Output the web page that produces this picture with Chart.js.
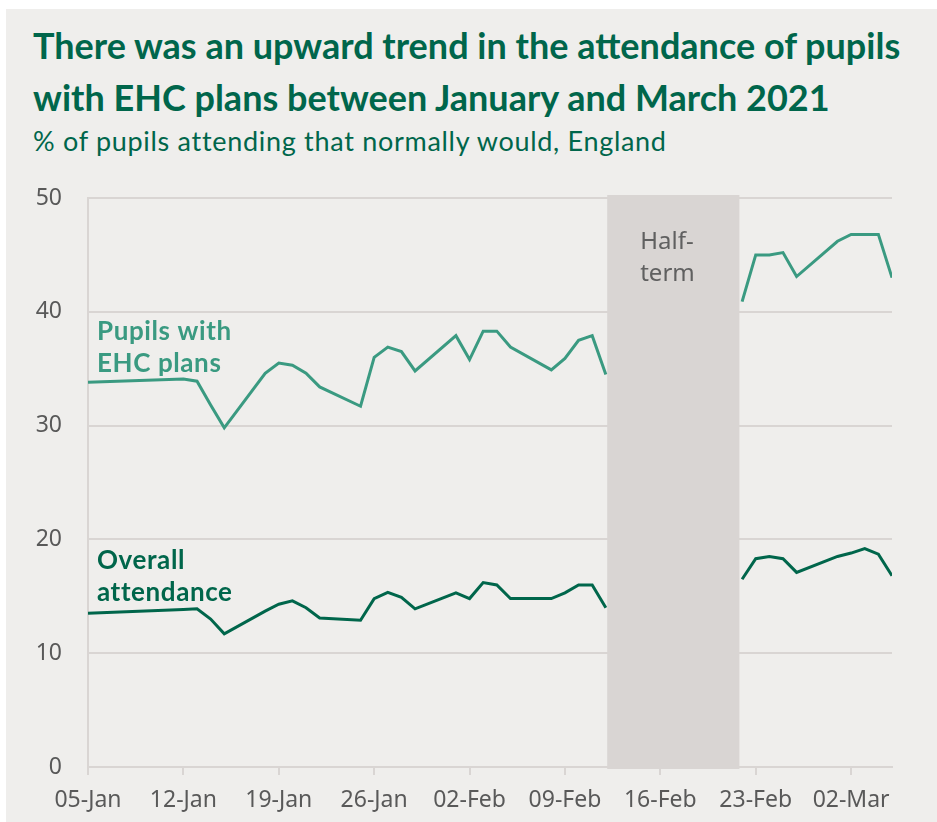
<!DOCTYPE html>
<html>
<head>
<meta charset="utf-8">
<title>Attendance of pupils with EHC plans</title>
<script src="https://cdn.jsdelivr.net/npm/chart.js@4.4.1/dist/chart.umd.min.js"></script>
<style>
    html, body { margin: 0; padding: 0; background: #ffffff; }
    #panel { position: absolute; left: 6px; top: 9px; width: 931px; height: 813px; background: #efeeec; }
    #title { position: absolute; left: 33px; top: 19px; margin: 0; font: bold 36px Lato, "Noto Sans", sans-serif; line-height: 52px; color: #00664b; white-space: nowrap; }
    #subtitle { position: absolute; left: 33px; top: 126px; margin: 0; font: 27px Lato, "Noto Sans", sans-serif; letter-spacing: 0.7px; line-height: 30px; color: #00664b; white-space: nowrap; }
    #chart { position: absolute; left: 0; top: 0; }
</style>
</head>
<body>
<div id="panel"></div>
<h1 id="title">There was an upward trend in the attendance of pupils<br>with EHC plans between January and March 2021</h1>
<p id="subtitle">% of pupils attending that normally would, England</p>
<canvas id="chart" width="937" height="822"></canvas>
<script>
// Days since 05-Jan-2021 (school days only, null marks the half-term break)
const dayOffsets = [0, 7, 8, 9, 10, 13, 14, 15, 16, 17, 20, 21, 22, 23, 24, 27, 28, 29, 30, 31,
    34, 35, 36, 37, 38, 43, 48, 49, 50, 51, 52, 55, 56, 57, 58, 59];

const ehcValues = [33.8, 34.1, 33.9, 31.8, 29.8, 34.6, 35.5, 35.3, 34.6, 33.4, 31.7, 36.0, 36.9, 36.5, 34.8,
    37.9, 35.8, 38.3, 38.3, 36.9, 34.9, 35.9, 37.5, 37.9, 34.5, null,
    40.9, 45.0, 45.0, 45.2, 43.1, 46.2, 46.8, 46.8, 46.8, 43.0];

const overallValues = [13.5, 13.85, 13.9, 13.0, 11.7, 13.7, 14.3, 14.6, 14.0, 13.1, 12.9, 14.8, 15.35, 14.9, 13.9,
    15.3, 14.8, 16.2, 16.0, 14.8, 14.8, 15.3, 16.0, 16.0, 14.0, null,
    16.5, 18.3, 18.5, 18.3, 17.1, 18.5, 18.8, 19.2, 18.7, 16.8];

const tickDays = [0, 7, 14, 21, 28, 35, 42, 49, 56];
const tickLabels = ['05-Jan', '12-Jan', '19-Jan', '26-Jan', '02-Feb', '09-Feb', '16-Feb', '23-Feb', '02-Mar'];

const halfTerm = [38.1, 47.8];

const tealColor = '#3a9a81';
const greenColor = '#00664b';
const gridColor = '#d9d5d3';
const tickColor = '#595959';

function toPoints(values) {
    return dayOffsets.map((d, i) => ({ x: d, y: values[i] }));
}

// Grey band behind the lines for half-term, plus the text labels
const annotations = {
    id: 'annotations',
    beforeDatasetsDraw(chart) {
        const { ctx, chartArea, scales } = chart;
        const x1 = scales.x.getPixelForValue(halfTerm[0]);
        const x2 = scales.x.getPixelForValue(halfTerm[1]);
        ctx.save();
        ctx.fillStyle = '#d9d5d3';
        ctx.fillRect(x1, chartArea.top - 3, x2 - x1, chartArea.bottom - chartArea.top + 5);
        ctx.fillStyle = '#606060';
        ctx.font = '24px "Noto Sans"';
        ctx.textBaseline = 'alphabetic';
        ctx.fillText('Half-', x1 + 33, 249);
        ctx.fillText('term', x1 + 33, 281);
        ctx.restore();
    },
    afterDatasetsDraw(chart) {
        const { ctx, chartArea } = chart;
        const left = chartArea.left + 9;
        ctx.save();
        ctx.textBaseline = 'alphabetic';
        ctx.font = 'bold 26px Lato';
        ctx.letterSpacing = '0.6px';
        ctx.fillStyle = tealColor;
        ctx.fillText('Pupils with', left, 340);
        ctx.fillText('EHC plans', left, 372);
        ctx.fillStyle = greenColor;
        ctx.fillText('Overall', left, 569);
        ctx.fillText('attendance', left, 601);
        ctx.restore();
    }
};

new Chart(document.getElementById('chart'), {
    type: 'line',
    data: {
        datasets: [{
            label: 'Pupils with EHC plans',
            data: toPoints(ehcValues),
            borderColor: tealColor,
            borderWidth: 3,
            pointRadius: 0,
            tension: 0,
            spanGaps: false
        }, {
            label: 'Overall attendance',
            data: toPoints(overallValues),
            borderColor: greenColor,
            borderWidth: 3,
            pointRadius: 0,
            tension: 0,
            spanGaps: false
        }]
    },
    options: {
        responsive: false,
        animation: false,
        layout: {
            padding: { top: 198, right: 45, bottom: 0, left: 0 }
        },
        plugins: {
            legend: { display: false },
            tooltip: { enabled: false }
        },
        scales: {
            x: {
                type: 'linear',
                min: 0,
                max: 59,
                afterBuildTicks: scale => {
                    scale.ticks = tickDays.map(v => ({ value: v }));
                },
                afterFit: scale => { scale.height = 55; },
                ticks: {
                    autoSkip: false,
                    maxRotation: 0,
                    padding: 12,
                    color: tickColor,
                    font: { family: '"Noto Sans"', size: 23 },
                    callback: value => tickLabels[tickDays.indexOf(value)]
                },
                grid: {
                    drawOnChartArea: false,
                    drawTicks: true,
                    tickLength: 8,
                    color: gridColor,
                    lineWidth: 2
                },
                border: { display: true, color: gridColor, width: 2 }
            },
            y: {
                min: 0,
                max: 50,
                afterFit: scale => { scale.width = 88; },
                ticks: {
                    stepSize: 10,
                    padding: 26,
                    color: tickColor,
                    font: { family: '"Noto Sans"', size: 23 }
                },
                grid: {
                    drawTicks: false,
                    color: gridColor,
                    lineWidth: 2
                },
                border: { display: true, color: gridColor, width: 2 }
            }
        }
    },
    plugins: [annotations]
});
</script>
</body>
</html>
